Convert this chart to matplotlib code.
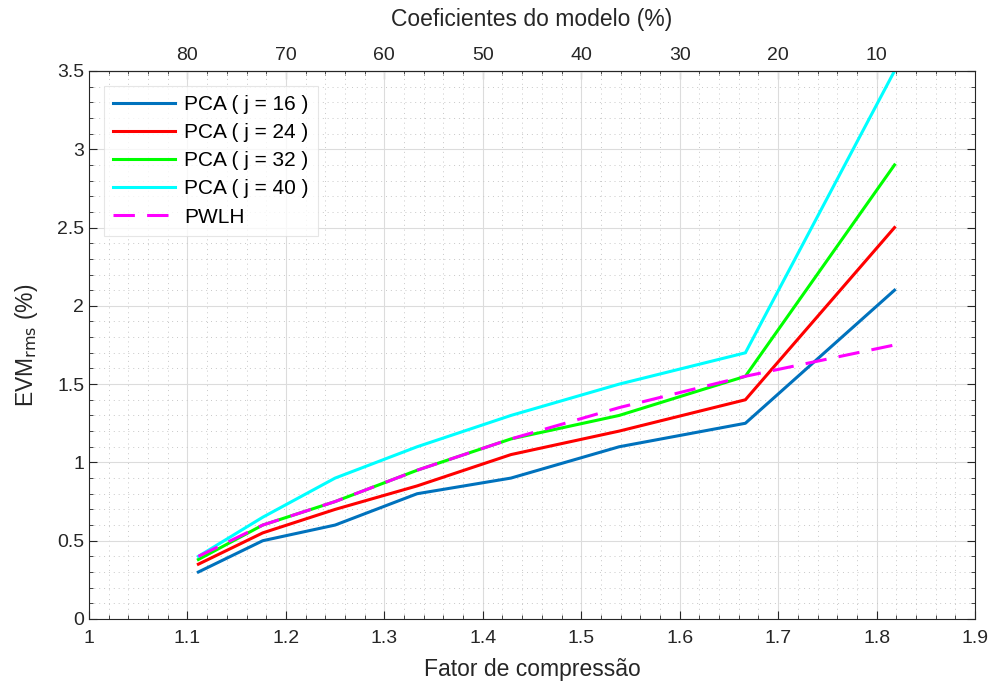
import matplotlib
matplotlib.use("Agg")
import matplotlib.pyplot as plt
from matplotlib.ticker import MultipleLocator

plt.rcParams['font.family'] = ['Liberation Sans', 'DejaVu Sans']

# compression factor (x axis)
fator = [1.1111, 1.1765, 1.25, 1.3333, 1.4286, 1.5385, 1.6667, 1.8182]

# EVM rms (%) per method
pca_16 = [0.30, 0.50, 0.60, 0.80, 0.90, 1.10, 1.25, 2.10]
pca_24 = [0.35, 0.55, 0.70, 0.85, 1.05, 1.20, 1.40, 2.50]
pca_32 = [0.38, 0.60, 0.75, 0.95, 1.15, 1.30, 1.55, 2.90]
pca_40 = [0.40, 0.65, 0.90, 1.10, 1.30, 1.50, 1.70, 3.50]
pwlh = [0.40, 0.60, 0.75, 0.95, 1.15, 1.35, 1.55, 1.75]

# axis ticks
x_ticks = [1.0, 1.1, 1.2, 1.3, 1.4, 1.5, 1.6, 1.7, 1.8, 1.9]
x_labels = ['1', '1.1', '1.2', '1.3', '1.4', '1.5', '1.6', '1.7', '1.8', '1.9']
y_ticks = [0, 0.5, 1.0, 1.5, 2.0, 2.5, 3.0, 3.5]
y_labels = ['0', '0.5', '1', '1.5', '2', '2.5', '3', '3.5']

# top axis: model coefficients (%)
top_ticks = [1.1, 1.2, 1.3, 1.4, 1.5, 1.6, 1.7, 1.8]
top_labels = ['80', '70', '60', '50', '40', '30', '20', '10']

fig = plt.figure(figsize=(9.9, 6.89), dpi=100)
ax = fig.add_axes([0.0899, 0.1016, 0.895, 0.7954])

lw = 2.2
ax.plot(fator, pca_16, color='#0072BD', lw=lw, label='PCA ( j = 16 )')
ax.plot(fator, pca_24, color='#FF0000', lw=lw, label='PCA ( j = 24 )')
ax.plot(fator, pca_32, color='#00FF00', lw=lw, label='PCA ( j = 32 )')
ax.plot(fator, pca_40, color='#00FFFF', lw=lw, label='PCA ( j = 40 )')
ax.plot(fator, pwlh, color='#FF00FF', lw=lw, dashes=(7, 4), label='PWLH')

ax.set_xlim(1, 1.9)
ax.set_ylim(0, 3.5)
ax.set_xticks(x_ticks)
ax.set_xticklabels(x_labels)
ax.set_yticks(y_ticks)
ax.set_yticklabels(y_labels)
ax.xaxis.set_minor_locator(MultipleLocator(0.02))
ax.yaxis.set_minor_locator(MultipleLocator(0.1))

ax.grid(which='major', color='#DCDCDC', lw=0.8)
ax.grid(which='minor', color='#C8C8C8', lw=0.7, ls=(0, (1, 4)))
ax.set_axisbelow(True)

ax.tick_params(which='both', direction='in', right=True, labelsize=14, colors='#262626')
ax.tick_params(which='major', length=6)
ax.tick_params(which='minor', length=3)
ax.tick_params(axis='x', pad=8)
for s in ax.spines.values():
    s.set_color('#262626')
    s.set_linewidth(0.8)

ax.set_xlabel('Fator de compressão', fontsize=16.5, color='#262626', labelpad=8)
ax.set_ylabel('EVM$_{\\mathrm{rms}}$ (%)', fontsize=16.5, color='#262626', labelpad=12)

top = ax.secondary_xaxis('top')
top.set_xticks(top_ticks)
top.set_xticklabels(top_labels)
top.xaxis.set_minor_locator(MultipleLocator(0.02))
top.tick_params(which='both', direction='in', labelsize=14, colors='#262626')
top.tick_params(which='major', length=6)
top.tick_params(which='minor', length=3)
top.tick_params(axis='x', pad=5)
top.set_xlabel('Coeficientes do modelo (%)', fontsize=16.5, color='#262626', labelpad=15)

leg = ax.legend(loc='upper left', fontsize=15, frameon=True, fancybox=False,
                edgecolor='#E0E0E0', handlelength=3.0, borderaxespad=0.7,
                labelspacing=0.44, borderpad=0.45, handletextpad=0.4)
leg.get_frame().set_linewidth(0.8)

fig.savefig('out.png', dpi=100)
